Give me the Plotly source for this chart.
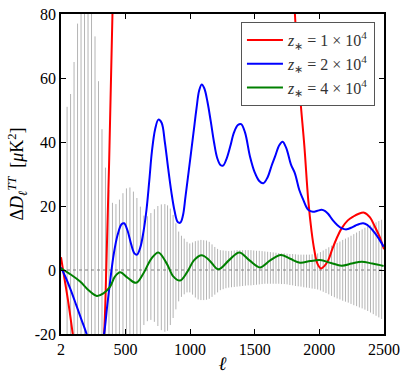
import numpy as np
import plotly.graph_objects as go

# ---------------- data ----------------
# error-bar band (binned multipoles) – centred on zero
bar_ell_low = list(range(49, 806, 27))          # 29 bins
bar_ell_high = list(np.round(np.arange(826, 2490, 21.5), 1))  # high-ell bins
bar_ell = bar_ell_low + bar_ell_high

err_up_low = [51, 55, 65, 77, 86, 92, 92, 86, 73, 59, 44, 32, 25, 21, 20.6, 22, 24, 25.5,
              25.8, 24.5, 22.5, 19.8, 17, 16.8, 17.8, 19, 20, 20.5, 20.6]
err_dn_low = [51, 55, 65, 77, 86, 92, 92, 86, 73, 59, 44, 32, 25, 21, 20.6, 22, 24, 25.5,
              25.8, 24.5, 22.5, 20.5, 17.2, 16, 15.6, 16.2, 17.5, 18.8, 19.3]
err_up_high = [20.2, 19.2, 17.2, 14.6, 12, 10.7, 9.8, 8.8, 8.3, 8.6, 9, 9.2, 9.4, 9.3, 9.2, 8.8,
               8, 7.2, 6.6, 6.2, 6.1, 6, 5.9, 6, 6.1, 6.2, 6.2, 6.2, 6.2, 6.2, 6.2, 6.1, 6, 6,
               5.9, 5.8, 5.7, 5.6, 5.5, 5.4, 5.3, 5.2, 5.2, 5.1, 5, 5, 4.9, 4.8, 4.8, 4.8, 4.8,
               4.8, 4.9, 5, 5.2, 5.6, 6.1, 6.6, 7.1, 7.6, 8, 8.5, 8.9, 9.4, 9.8, 10.2, 10.7,
               11.2, 11.7, 12.2, 12.7, 13.2, 13.6, 14, 14.5, 14.9, 15.3, 15.7]
err_dn_high = [19, 17.2, 15, 12.3, 9.8, 8.4, 7.6, 7, 7, 7.7, 8.6, 9.2, 9.4, 9.4, 9.3, 9, 8.4,
               7.7, 7, 6.3, 6, 5.7, 5.5, 5.4, 5.3, 5.2, 5.1, 5, 4.9, 4.8, 4.8, 4.7, 4.6, 4.5,
               4.4, 4.3, 4.3, 4.3, 4.3, 4.3, 4.3, 4.4, 4.4, 4.5, 4.7, 4.8, 5, 5.1, 5.2, 5.4,
               5.5, 5.6, 5.8, 5.9, 6.1, 6.4, 6.8, 7.2, 7.6, 8.1, 8.5, 8.9, 9.2, 9.6, 9.9, 10.2,
               10.6, 11, 11.3, 11.7, 12, 12.4, 12.8, 13.3, 13.8, 14.3, 14.8, 15.3]
err_up = err_up_low + err_up_high
err_dn = err_dn_low + err_dn_high
n_bars = min(len(bar_ell), len(err_up), len(err_dn))
bar_ell, err_up, err_dn = bar_ell[:n_bars], err_up[:n_bars], err_dn[:n_bars]
bar_center = [0.0] * n_bars

# z_* = 1e4 (red)
red_ell = [2, 30, 60, 93, 130, 170, 220, 270, 305, 335, 352, 375, 400, 430, 480, 600, 900,
           1300, 1600, 1700, 1760, 1811, 1850, 1884, 1914, 1940, 1961, 1985, 2012, 2040,
           2069, 2100, 2135, 2172, 2220, 2262, 2305, 2347, 2390, 2430, 2465, 2500]
red_val = [4, -3, -10.5, -20, -31, -42, -50, -45, -33, -20, 0, 35, 80, 140, 200, 260, 300,
           300, 250, 180, 130, 80, 55, 38.8, 21.9, 12, 6.25, 2, 0.5, 1.3,
           3.1, 6.5, 10, 13, 15.5, 16.7, 17.6, 17.9, 16.5, 13.5, 10.5, 6.5]

# z_* = 2e4 (blue)
blue_ell = [2, 40, 80, 120, 160, 200, 235, 270, 305, 335, 360, 385, 410, 440, 470, 490,
            515, 545, 570, 590, 615, 640, 663, 685, 705, 730, 755, 780, 805, 830, 855, 880,
            905, 925, 945, 965, 990, 1026, 1050, 1070, 1090, 1110, 1135, 1160, 1185, 1210,
            1235, 1255, 1280, 1310, 1340, 1370, 1395, 1425, 1464, 1500, 1535, 1567, 1600,
            1630, 1657, 1690, 1716, 1745, 1780, 1811, 1845, 1876, 1914, 1950, 1985, 2017,
            2045, 2069, 2105, 2140, 2175, 2211, 2245, 2280, 2310, 2339, 2370, 2400, 2430,
            2460, 2497]
blue_val = [0.8, -2.5, -6.5, -11, -15.5, -20, -25, -28.5, -26, -20, -11, -2.5, 5, 11, 14.3,
            14.6, 12.5, 8, 5.2, 4.8, 7, 12, 18.75, 28, 37, 44, 47, 46, 40, 32, 24.5, 18.5,
            15, 14.8, 17, 23, 31, 42.7, 50.5, 56, 58, 56.8, 52.5, 46.5, 40, 35,
            32.8, 32.6, 34.5, 38.5, 43, 45.3, 45.6, 43, 35.4, 30.5, 27.8, 27.1, 29,
            32.5, 35.4, 39, 40.1, 38, 33, 30.2, 25, 21.9, 18.8, 18.2, 18.5, 18.8,
            18.4, 17.5, 15.5, 14, 13, 12.7, 13.2, 13.9, 14.4, 14.6, 14.1, 13, 11.5,
            9.8, 7.3]

# z_* = 4e4 (green)
green_ell = [2, 80, 150, 220, 279, 330, 382, 420, 459, 520, 583, 640, 700, 755, 820, 870,
             923, 980, 1030, 1090, 1150, 1219, 1300, 1381, 1460, 1541, 1620, 1701, 1775,
             1850, 1930, 2005, 2090, 2172, 2250, 2327, 2410, 2497]
green_val = [0.5, -1.5, -3.6, -6.5, -8.1, -7.3, -5.2, -2, -0.7, -2.5, -4, -1, 3.5, 5.5, 2,
             -2, -3.3, -0.5, 3, 4.6, 3, 0.2, 3, 5.5, 3, 0.8, 3, 4.7, 3.5,
             2.3, 2.8, 3.1, 2.2, 1.35, 2, 2.6, 2, 1.25]

series_names = ["<i>z</i><sub>∗</sub> = 1 × 10<sup>4</sup>",
                "<i>z</i><sub>∗</sub> = 2 × 10<sup>4</sup>",
                "<i>z</i><sub>∗</sub> = 4 × 10<sup>4</sup>"]

x_range = [2, 2500]
y_range = [-20, 80]
x_ticks = [2, 500, 1000, 1500, 2000, 2500]
y_ticks = [-20, 0, 20, 40, 60, 80]
y_ticktext = ["-20", "0", "20", "40", "60", "80"]

# ---------------- figure ----------------
FONT = "Liberation Serif"
fig = go.Figure()

fig.add_trace(go.Scatter(
    x=bar_ell, y=bar_center, mode="markers",
    marker=dict(size=1, color="rgba(0,0,0,0)"),
    error_y=dict(type="data", symmetric=False, array=err_up, arrayminus=err_dn,
                 width=0, thickness=1, color="#b4b4b4"),
    showlegend=False, hoverinfo="skip"))

fig.add_trace(go.Scatter(
    x=x_range, y=[0, 0], mode="lines",
    line=dict(color="#808080", width=1, dash="dot"),
    showlegend=False, hoverinfo="skip"))

for xs, ys, col, name in [(red_ell, red_val, "#ff0000", series_names[0]),
                          (blue_ell, blue_val, "#0000ff", series_names[1]),
                          (green_ell, green_val, "#008000", series_names[2])]:
    fig.add_trace(go.Scatter(x=xs, y=ys, mode="lines", name=name,
                             line=dict(color=col, width=2, shape="spline", smoothing=1.0)))

axis_common = dict(showgrid=False, zeroline=False, showline=True, linecolor="black",
                   linewidth=1.5, mirror="ticks", ticks="inside", ticklen=5,
                   tickwidth=1.3, tickcolor="black", automargin=False,
                   ticklabeloverflow="allow",
                   tickfont=dict(family=FONT, size=16, color="black"))

fig.update_xaxes(range=x_range, tickvals=x_ticks, ticktext=[str(t) for t in x_ticks],
                 title=dict(text="<i>ℓ</i>", font=dict(family=FONT, size=19, color="black"),
                            standoff=0),
                 **axis_common)
fig.update_yaxes(range=y_range, tickvals=y_ticks, ticktext=y_ticktext,
                 title=dict(text="Δ<i>D</i><sub><i>ℓ</i></sub><sup><i>TT</i></sup>  [<i>μ</i>K<sup>2</sup>]",
                            font=dict(family=FONT, size=18, color="black"), standoff=6),
                 **axis_common)

fig.update_layout(
    width=409, height=387,
    margin=dict(l=61, r=25, t=14, b=53, autoexpand=False),
    paper_bgcolor="white", plot_bgcolor="white",
    font=dict(family=FONT, size=16, color="black"),
    showlegend=True,
    legend=dict(x=0.972, y=0.975, xanchor="right", yanchor="top",
                bgcolor="white", bordercolor="#555555", borderwidth=1,
                font=dict(family=FONT, size=16, color="#333333"),
                itemwidth=36, tracegroupgap=0),
)

# remove the default page margin so the figure sits at the window's top-left corner
fig.write_html("out.html",
               config={"displayModeBar": False},
               post_script="document.body.style.margin='0px';document.body.style.overflow='hidden';")
